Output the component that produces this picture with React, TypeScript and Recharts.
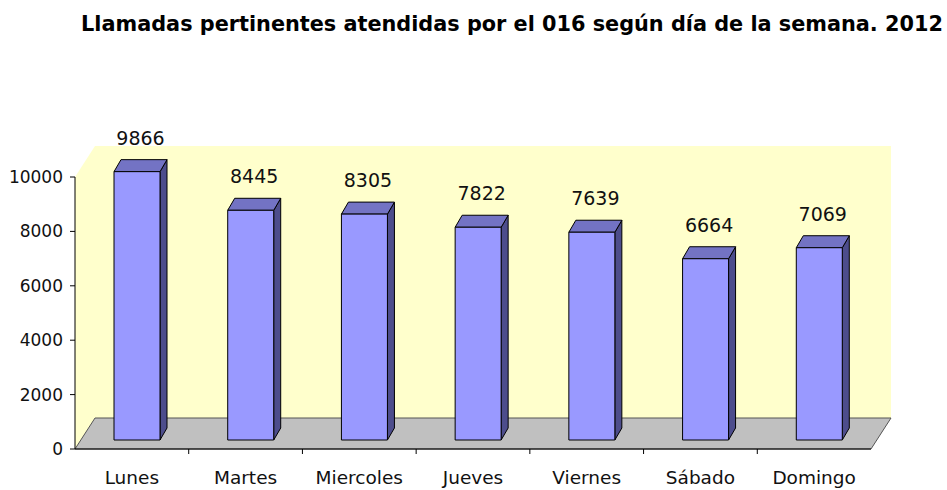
import { Bar, BarChart, LabelList, XAxis, YAxis } from 'recharts';

const days = ['Lunes', 'Martes', 'Miercoles', 'Jueves', 'Viernes', 'Sábado', 'Domingo'];
const calls = [9866, 8445, 8305, 7822, 7639, 6664, 7069];
const yTicks = [0, 2000, 4000, 6000, 8000, 10000];

const data = days.map((day, i) => ({ day, calls: calls[i] }));

const W = 947;
const H = 490;
const left = 75;
const right = 871;
const top = 177;
const bottom = 449;
// depth of the floor / walls
const wx = 20;
const wy = -31;
// bar placement inside the depth
const fx = 5;
const fy = -9;
const bx = 7;
const by = -12;
const band = (right - left) / days.length;

const font = '"DejaVu Sans", sans-serif';

function Bar3D(props: any) {
  const { x, y, width, height } = props;
  const X = x + fx;
  const Y = y + fy;
  return (
    <g stroke="#000" strokeWidth={1} strokeLinejoin="round">
      <polygon
        points={`${X + width},${Y} ${X + width + bx},${Y + by} ${X + width + bx},${Y + height + by} ${X + width},${Y + height}`}
        fill="#4d4d8c"
      />
      <polygon
        points={`${X},${Y} ${X + bx},${Y + by} ${X + width + bx},${Y + by} ${X + width},${Y}`}
        fill="#7373c4"
      />
      <rect x={X} y={Y} width={width} height={height} fill="#9999ff" />
    </g>
  );
}

function ValueLabel(props: any) {
  const { x, y, width, value } = props;
  return (
    <text
      x={x + width / 2 + fx + bx / 2}
      y={y + fy + by - 15}
      textAnchor="middle"
      fontFamily={font}
      fontSize={19}
      fill="#111"
    >
      {value}
    </text>
  );
}

function DayTick(props: any) {
  const { x, payload, index } = props;
  return (
    <g>
      {index < days.length - 1 && (
        <line x1={x + band / 2} x2={x + band / 2} y1={bottom} y2={bottom + 5} stroke="#000" />
      )}
      <text x={x} y={484} textAnchor="middle" fontFamily={font} fontSize={18.5} fill="#111">
        {payload.value}
      </text>
    </g>
  );
}

function Backdrop() {
  return (
    <svg width={W} height={H} style={{ position: 'absolute', left: 0, top: 0 }}>
      <text
        x={512}
        y={31}
        textAnchor="middle"
        fontFamily={font}
        fontWeight="bold"
        fontSize={20.8}
        fill="#000"
      >
        Llamadas pertinentes atendidas por el 016 según día de la semana. 2012
      </text>
      <rect x={left + wx} y={top + wy} width={right - left} height={bottom - top} fill="#ffffcc" />
      <polygon
        points={`${left},${bottom} ${left + wx},${bottom + wy} ${left + wx},${top + wy} ${left},${top}`}
        fill="#ffffcc"
      />
      <polygon
        points={`${left},${bottom} ${right},${bottom} ${right + wx},${bottom + wy} ${left + wx},${bottom + wy}`}
        fill="#c0c0c0"
        stroke="#555"
        strokeWidth={1}
      />
    </svg>
  );
}

export default function App() {
  return (
    <div style={{ position: 'absolute', left: 0, top: 0, width: W, height: H, background: '#fff' }}>
      <Backdrop />
      <div style={{ position: 'absolute', left: 0, top: 0 }}>
        <BarChart
          width={W}
          height={H}
          data={data}
          margin={{ top: top, right: W - right, bottom: 0, left: 0 }}
        >
          <XAxis
            dataKey="day"
            height={H - bottom}
            tickLine={false}
            axisLine={{ stroke: '#000' }}
            tick={<DayTick />}
            interval={0}
          />
          <YAxis
            width={left}
            domain={[0, 10000]}
            ticks={yTicks}
            tickSize={5}
            tickMargin={7}
            axisLine={{ stroke: '#000' }}
            tickLine={{ stroke: '#000' }}
            tick={{ fontFamily: font, fontSize: 17, fill: '#111' }}
          />
          <Bar dataKey="calls" barSize={46} shape={<Bar3D />} isAnimationActive={false}>
            <LabelList dataKey="calls" content={<ValueLabel />} />
          </Bar>
        </BarChart>
      </div>
    </div>
  );
}
